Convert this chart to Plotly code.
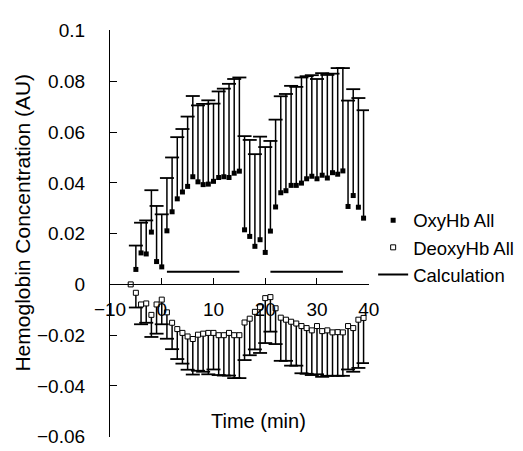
import plotly.graph_objects as go

time = list(range(-6, 40))
oxy = [0.0, 0.0059, 0.0124, 0.0120, 0.0206, 0.0090, 0.0069, 0.0211, 0.0286, 0.0337,
       0.0364, 0.0386, 0.0424, 0.0404, 0.0393, 0.0395, 0.0406, 0.0421, 0.0424, 0.0421,
       0.0438, 0.0446, 0.0215, 0.0189, 0.0150, 0.0176, 0.0126, 0.0210, 0.0305, 0.0361,
       0.0369, 0.0390, 0.0390, 0.0399, 0.0416, 0.0426, 0.0416, 0.0430, 0.0419, 0.0440,
       0.0434, 0.0447, 0.0307, 0.0350, 0.0304, 0.0261]
oxy_err = [0.0, 0.0094, 0.0119, 0.0132, 0.0165, 0.0219, 0.0207, 0.0208, 0.0214, 0.0243,
           0.0248, 0.0275, 0.0318, 0.0301, 0.0318, 0.0330, 0.0306, 0.0339, 0.0347, 0.0369,
           0.0371, 0.0369, 0.0369, 0.0380, 0.0363, 0.0406, 0.0415, 0.0355, 0.0344, 0.0380,
           0.0381, 0.0392, 0.0388, 0.0416, 0.0404, 0.0398, 0.0393, 0.0402, 0.0406, 0.0390,
           0.0418, 0.0405, 0.0417, 0.0419, 0.0430, 0.0425]
deoxy = [0.0, -0.0033, -0.0079, -0.0075, -0.0120, -0.0079, -0.0060, -0.0110, -0.0151, -0.0176,
         -0.0191, -0.0205, -0.0215, -0.0198, -0.0194, -0.0191, -0.0191, -0.0200, -0.0200, -0.0191,
         -0.0200, -0.0200, -0.0150, -0.0135, -0.0108, -0.0090, -0.0054, -0.0050, -0.0094, -0.0131,
         -0.0139, -0.0147, -0.0154, -0.0164, -0.0172, -0.0181, -0.0164, -0.0184, -0.0181, -0.0189,
         -0.0188, -0.0189, -0.0164, -0.0172, -0.0139, -0.0132]
deoxy_err = [0.0, 0.0058, 0.0078, 0.0076, 0.0087, 0.0115, 0.0097, 0.0104, 0.0104, 0.0118,
             0.0121, 0.0131, 0.0140, 0.0142, 0.0150, 0.0163, 0.0144, 0.0157, 0.0159, 0.0168,
             0.0169, 0.0169, 0.0148, 0.0144, 0.0148, 0.0180, 0.0177, 0.0136, 0.0141, 0.0170,
             0.0162, 0.0173, 0.0166, 0.0186, 0.0180, 0.0176, 0.0190, 0.0180, 0.0179, 0.0171,
             0.0172, 0.0171, 0.0171, 0.0172, 0.0190, 0.0178]
calc_x = [1, 15, None, 21, 35]
calc_y = [0.005, 0.005, None, 0.005, 0.005]

FONT = "Liberation Sans, Arial, sans-serif"
TICK_FS = 19
LEG_FS = 18.5
TITLE_FS = 20

zeros = [0.0] * len(time)

# cap positions derived from the data
oxy_cap_x = [t for t, e in zip(time, oxy_err) if e > 0]
oxy_cap_y = [v + e for v, e in zip(oxy, oxy_err) if e > 0]
de_cap_x = [t for t, e in zip(time, deoxy_err) if e > 0]
de_cap_y = [v - e for v, e in zip(deoxy, deoxy_err) if e > 0]

fig = go.Figure()

fig.add_trace(go.Scatter(
    x=oxy_cap_x, y=oxy_cap_y, mode="markers", showlegend=False, hoverinfo="skip",
    marker=dict(symbol="line-ew", size=10, line=dict(color="black", width=1.8))))
fig.add_trace(go.Scatter(
    x=de_cap_x, y=de_cap_y, mode="markers", showlegend=False, hoverinfo="skip",
    marker=dict(symbol="line-ew", size=10, line=dict(color="black", width=1.8))))

fig.add_trace(go.Scatter(
    x=time, y=oxy, mode="markers", name="OxyHb All",
    error_y=dict(type="data", symmetric=False, array=oxy_err, arrayminus=zeros,
                 color="black", thickness=1.5, width=0),
    marker=dict(symbol="square", size=5, color="black")))

fig.add_trace(go.Scatter(
    x=time, y=deoxy, mode="markers", name="DeoxyHb All",
    error_y=dict(type="data", symmetric=False, array=zeros, arrayminus=deoxy_err,
                 color="black", thickness=1.5, width=0),
    marker=dict(symbol="square", size=5, color="white", line=dict(color="black", width=1))))

fig.add_trace(go.Scatter(
    x=calc_x, y=calc_y, mode="lines", name="Calculation",
    line=dict(color="black", width=2)))

fig.update_layout(
    width=523, height=451,
    margin=dict(l=102, r=146, t=13, b=12),
    paper_bgcolor="white", plot_bgcolor="white",
    font=dict(family=FONT, size=TICK_FS, color="black"),
    showlegend=True,
    legend=dict(x=1.016, y=0.578, xanchor="left", yanchor="top",
                font=dict(family=FONT, size=LEG_FS, color="black"),
                bgcolor="rgba(0,0,0,0)", tracegroupgap=0, itemwidth=30),
    xaxis=dict(range=[-10, 40.05], tick0=0, dtick=10, showgrid=False, zeroline=False,
               showline=True, linecolor="black", linewidth=1.2,
               ticks="inside", ticklen=6, tickcolor="black", tickwidth=1.2,
               anchor="free", position=0.375, ticklabelstandoff=8,
               tickfont=dict(family=FONT, size=TICK_FS, color="black")),
    yaxis=dict(range=[-0.0601, 0.1002], tick0=0, dtick=0.02, showgrid=False, zeroline=False,
               showline=True, linecolor="black", linewidth=1.2,
               ticks="inside", ticklen=7, tickcolor="black", tickwidth=1.2,
               ticklabelstandoff=20,
               tickfont=dict(family=FONT, size=TICK_FS, color="black")),
    annotations=[
        dict(text="Time (min)", xref="paper", yref="paper", x=0.575, y=0.04,
             xanchor="center", yanchor="middle",
             showarrow=False, font=dict(family=FONT, size=TITLE_FS, color="black")),
        dict(text="Hemoglobin Concentration (AU)", xref="paper", yref="paper",
             x=-0.338, y=0.528, xanchor="center", yanchor="middle", textangle=-90,
             showarrow=False, font=dict(family=FONT, size=21, color="black")),
    ],
)

fig.write_html("out.html")
